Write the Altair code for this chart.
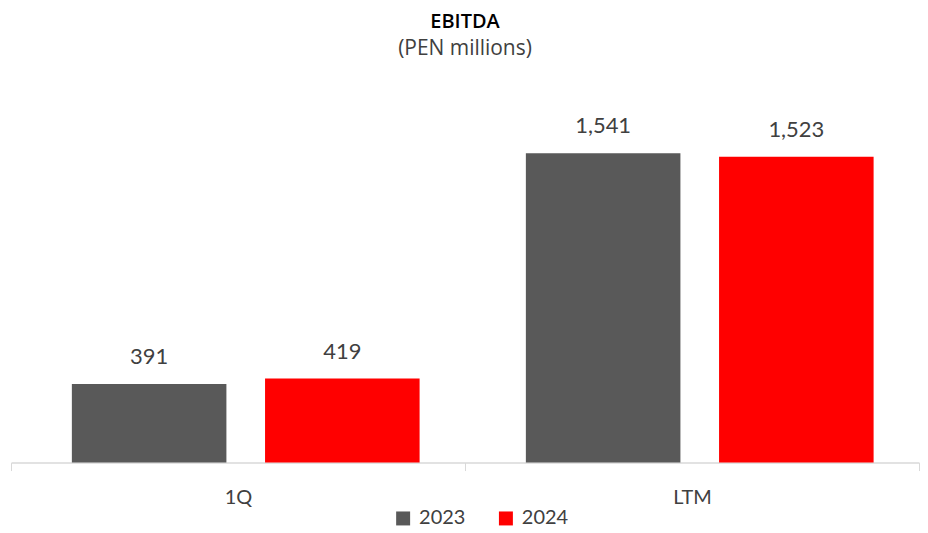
import altair as alt
import pandas as pd

categories = ["1Q", "LTM"]
years = ["2023", "2024"]
values_2023 = [391, 1541]
values_2024 = [419, 1523]

rows = []
for i, c in enumerate(categories):
    rows.append({"cat": c, "year": "2023", "value": values_2023[i]})
    rows.append({"cat": c, "year": "2024", "value": values_2024[i]})
df = pd.DataFrame(rows)

FONT = "Lato"
TFONT = "Open Sans"
colors = ["#595959", "#FF0000"]

base = alt.Chart(df).encode(
    x=alt.X("cat:N", sort=categories, title=None,
            scale=alt.Scale(paddingInner=0, paddingOuter=0),
            axis=alt.Axis(labelAngle=0, labelFontSize=20, labelFont=FONT,
                          labelColor="#404040", labelPadding=17,
                          domainColor="#d9d9d9", tickColor="#d9d9d9",
                          tickSize=8, tickBand="extent", domainWidth=1.5)),
    xOffset=alt.XOffset("year:N", sort=years,
                        scale=alt.Scale(range=[61, 409.5], paddingInner=0.2,
                                        paddingOuter=0)),
    y=alt.Y("value:Q", title=None, scale=alt.Scale(domain=[0, 1700], nice=False),
            axis=None),
)

bars = base.mark_bar().encode(
    color=alt.Color("year:N", sort=years,
                    scale=alt.Scale(domain=years, range=colors),
                    legend=alt.Legend(orient="none", legendX=383, legendY=388,
                                      direction="horizontal", title=None,
                                      symbolType="square",
                                      symbolSize=196, symbolStrokeWidth=0,
                                      labelFontSize=20, labelFont=FONT,
                                      labelColor="#404040", columnPadding=30,
                                      labelOffset=6)),
)

labels = base.mark_text(dy=-27, fontSize=22, font=FONT, color="#404040").encode(
    text=alt.Text("value:Q", format=",")
)

chart = (bars + labels).properties(
    width=910,
    height=342,
    title=alt.Title("EBITDA", subtitle="(PEN millions)", fontSize=20, font=TFONT,
                    fontWeight=600, color="#000000", subtitleFont=TFONT,
                    subtitleFontSize=21, subtitleColor="#404040",
                    subtitlePadding=7, offset=56, anchor="middle"),
    padding={"left": 2, "right": 0, "top": 2, "bottom": 0},
).configure_view(stroke=None)

chart.save("out.html", embed_options={"renderer": "svg", "actions": False})
